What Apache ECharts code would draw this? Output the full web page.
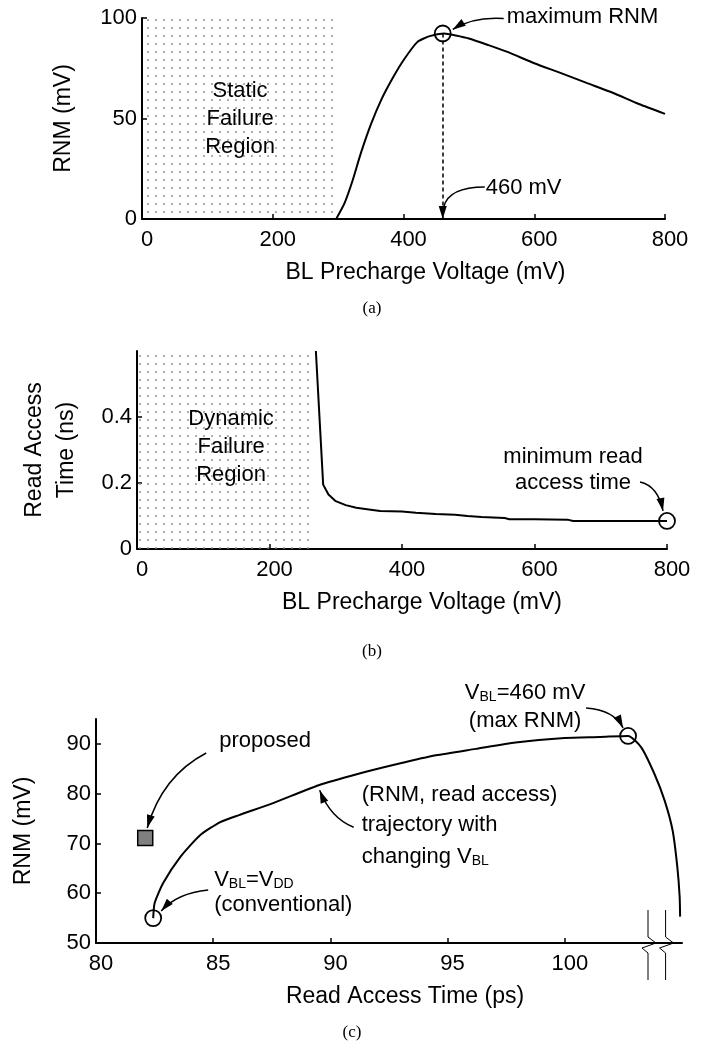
<!DOCTYPE html>
<html>
<head>
<meta charset="utf-8">
<title>RNM / read access vs BL precharge</title>
<script src="https://cdn.jsdelivr.net/npm/echarts@6/dist/echarts.min.js"></script>
<style>
    html, body { margin: 0; padding: 0; background: #fff; }
    #main { width: 704px; height: 1047px; }
</style>
</head>
<body>
<div id="main"></div>
<script>
// (a) RNM vs BL precharge voltage
var aVbl = [297, 310, 322, 335, 350, 367, 385, 400, 421, 440, 462, 480, 500, 530, 560, 600, 640, 680, 720, 760, 800];
var aRnm = [0, 8, 19, 33, 47, 60, 71, 79, 88, 91, 92.3, 91.3, 89.8, 86.5, 83, 77.5, 72.7, 67.7, 62.8, 57.2, 52.3];
var aMax = [460, 92.3];
var aFail = [0, 295];
var aX = [0, 800, 200];
var aY = [0, 100, 50];

// (b) read access time vs BL precharge voltage
var bVbl = [270, 281, 289, 300, 315, 331, 350, 367, 400, 421, 451, 480, 499, 520, 555, 562, 600, 650, 658, 800];
var bTime = [0.6, 0.195, 0.165, 0.145, 0.133, 0.125, 0.12, 0.115, 0.114, 0.11, 0.106, 0.104, 0.1, 0.097, 0.094, 0.09, 0.09, 0.089, 0.085, 0.085];
var bMin = [800, 0.085];
var bFail = [0, 265];
var bX = [0, 800, 200];
var bY = [0, 0.6, 0.2];

// (c) RNM vs read access time, trajectory with changing VBL
var cTime = [82.44, 82.5, 82.86, 83.6, 84.45, 85.3, 86.1, 87.5, 89.5, 91.2, 92.9, 94.5, 96.2, 97.9, 100, 101.5, 102.7, 103.26, 103.83, 104.26, 104.6, 104.8, 104.9, 104.92];
var cRnm = [55, 58, 62, 67.3, 71.7, 74.3, 75.7, 78, 81.7, 84, 86, 87.7, 89, 90.3, 91.2, 91.4, 91.6, 89.3, 83.9, 78.6, 72.6, 65.3, 59.3, 55.3];
var cConv = [82.44, 55];
var cMaxPt = [102.7, 91.6];
var cProposed = [82.1, 71.1];
var cTraj = [89.5, 81.7];
var cBreaks = [103.55, 104.3];
var cX = [80, 105, 5];
var cY = [50, 95, 10];

var FONT = '"Liberation Sans", Arial, Helvetica, sans-serif';
var chart = echarts.init(document.getElementById('main'));

function pairs(xs, ys) {
    return xs.map(function (x, i) { return [x, ys[i]]; });
}

// stipple for the failure regions
var dot = document.createElement('canvas');
dot.width = 8; dot.height = 8;
var dctx = dot.getContext('2d');
dctx.fillStyle = '#8c8c8c';
dctx.beginPath(); dctx.arc(4, 4, 0.95, 0, Math.PI * 2); dctx.fill();
var dots = { image: dot, repeat: 'repeat' };

function xAx(g, r, name, shift, showMax) {
    return {
        gridIndex: g, type: 'value', min: r[0], max: r[1], interval: r[2],
        name: name, nameLocation: 'middle', nameGap: 42,
        nameTextStyle: { color: '#000', fontSize: 23, fontFamily: FONT, padding: [0, 0, 0, shift] },
        axisLine: { onZero: false, lineStyle: { color: '#000', width: 2 } },
        axisTick: { inside: true, length: 5, lineStyle: { color: '#000', width: 1.5 } },
        axisLabel: { color: '#000', fontSize: 22, fontFamily: FONT, margin: 10, showMaxLabel: showMax, padding: [0, 0, 0, 10] },
        splitLine: { show: false }
    };
}
function yAx(g, r, name, gap, showMax) {
    return {
        gridIndex: g, type: 'value', min: r[0], max: r[1], interval: r[2],
        name: name, nameLocation: 'middle', nameGap: gap,
        nameTextStyle: { color: '#000', fontSize: 23, fontFamily: FONT, lineHeight: 32 },
        axisLine: { onZero: false, lineStyle: { color: '#000', width: 2 } },
        axisTick: { inside: true, length: 5, lineStyle: { color: '#000', width: 1.5 } },
        axisLabel: { color: '#000', fontSize: 22, fontFamily: FONT, margin: 5, showMaxLabel: showMax },
        splitLine: { show: false }
    };
}
function ring(g, pt) {
    return {
        type: 'scatter', xAxisIndex: g, yAxisIndex: g, data: [pt], symbol: 'circle', symbolSize: 16, z: 5, silent: true,
        itemStyle: { color: 'rgba(0,0,0,0)', borderColor: '#000', borderWidth: 1.8, opacity: 1 }
    };
}
var lineStyle = { color: '#000', width: 2 };

chart.setOption({
    animation: false,
    backgroundColor: '#fff',
    grid: [
        { left: 142, top: 18, width: 523, height: 201 },
        { left: 137, top: 351, width: 530, height: 198 },
        { left: 94, top: 719, width: 588, height: 224 }
    ],
    xAxis: [
        xAx(0, aX, 'BL Precharge Voltage (mV)', 44, true),
        xAx(1, bX, 'BL Precharge Voltage (mV)', 40, true),
        xAx(2, cX, 'Read Access Time (ps)', 32, false)
    ],
    yAxis: [
        yAx(0, aY, 'RNM (mV)', 62, true),
        yAx(1, bY, 'Read Access\nTime (ns)', 54, false),
        yAx(2, cY, 'RNM (mV)', 56, false)
    ],
    series: [
        {
            type: 'line', xAxisIndex: 0, yAxisIndex: 0, data: pairs(aVbl, aRnm), symbol: 'none', smooth: 0.2,
            lineStyle: lineStyle, z: 3, silent: true,
            markArea: { silent: true, itemStyle: { color: dots }, data: [[{ coord: [aFail[0], aY[0]] }, { coord: [aFail[1], aY[1]] }]] },
            markLine: {
                silent: true, symbol: 'none', label: { show: false },
                lineStyle: { color: '#000', width: 1.5, type: [4, 3] },
                data: [[{ coord: aMax }, { coord: [aMax[0], aY[0]] }]]
            }
        },
        ring(0, aMax),
        {
            type: 'line', xAxisIndex: 1, yAxisIndex: 1, data: pairs(bVbl, bTime), symbol: 'none',
            lineStyle: lineStyle, z: 3, silent: true,
            markArea: { silent: true, itemStyle: { color: dots }, data: [[{ coord: [bFail[0], bY[0]] }, { coord: [bFail[1], bY[1]] }]] }
        },
        ring(1, bMin),
        {
            type: 'line', xAxisIndex: 2, yAxisIndex: 2, data: pairs(cTime, cRnm), symbol: 'none', smooth: 0.2,
            lineStyle: lineStyle, z: 3, silent: true
        },
        ring(2, cConv),
        ring(2, cMaxPt),
        {
            type: 'scatter', xAxisIndex: 2, yAxisIndex: 2, data: [cProposed], symbol: 'rect', symbolSize: 15, z: 5, silent: true,
            itemStyle: { color: '#808080', borderColor: '#000', borderWidth: 1.5, opacity: 1 }
        }
    ]
});

// annotations
function P(g, pt) { return chart.convertToPixel({ gridIndex: g }, pt); }
function add(p, dx, dy) { return [p[0] + dx, p[1] + dy]; }
var gfx = [];
var rich = {
    n: { fontSize: 22, fontFamily: FONT, color: '#000', lineHeight: 26, verticalAlign: 'bottom' },
    s: { fontSize: 14, fontFamily: FONT, color: '#000', lineHeight: 14, verticalAlign: 'bottom' }
};
function text(p, str, align, lh, useRich) {
    var st = { text: str, font: '22px ' + FONT, fill: '#000', align: align, verticalAlign: 'middle', lineHeight: lh || 26 };
    if (useRich) st.rich = rich;
    gfx.push({ type: 'text', x: p[0], y: p[1], style: st, z: 12, silent: true });
}
function head(tip, from) {
    var dx = tip[0] - from[0], dy = tip[1] - from[1], L = Math.sqrt(dx * dx + dy * dy);
    var ux = dx / L, uy = dy / L, len = 13, hw = 4;
    var bx = tip[0] - ux * len, by = tip[1] - uy * len;
    gfx.push({
        type: 'polygon', z: 11, silent: true,
        shape: { points: [tip, [bx - uy * hw, by + ux * hw], [bx + uy * hw, by - ux * hw]] },
        style: { fill: '#000' }
    });
}
function arrow(p0, c, p1, withHead) {
    gfx.push({
        type: 'bezierCurve', z: 10, silent: true,
        shape: { x1: p0[0], y1: p0[1], cpx1: c[0], cpy1: c[1], x2: p1[0], y2: p1[1] },
        style: { stroke: '#000', lineWidth: 1.5, fill: 'none' }
    });
    if (withHead !== false) head(p1, c);
}

// (a)
var C = P(0, aMax);
text(add(C, 64, -17), 'maximum RNM', 'left');
arrow(add(C, 61, -15), add(C, 30, -17), add(C, 10, -4));
var Z = P(0, [aMax[0], aY[0]]);
text(add(Z, 43, -31), '460 mV', 'left');
arrow(add(Z, 42, -32), add(Z, 6, -32), add(Z, 1, -12), false);
head(Z, add(Z, 0, -20));
text(P(0, [150, 50]), 'Static\nFailure\nRegion', 'center', 28);

// (b)
var M = P(1, bMin);
text(add(M, -94, -51), 'minimum read\naccess time', 'center', 26);
arrow(add(M, -27, -39), add(M, -9, -35), add(M, -4, -10));
text(P(1, [142, 0.31]), 'Dynamic\nFailure\nRegion', 'center', 28);

// (c)
var S = P(2, cProposed);
text(add(S, 74, -97), 'proposed', 'left');
arrow(add(S, 61, -85), add(S, 17, -62), add(S, 2, -10));
var T = P(2, cTraj);
text(add(T, 43, 10), '(RNM, read access)', 'left');
text(add(T, 43, 40), 'trajectory with', 'left');
text(add(T, 43, 70), '{n|changing V}{s|BL}', 'left', 26, true);
arrow(add(T, 35, 42), add(T, 12, 33), add(T, 1, 5));
var V = P(2, cConv);
text(add(V, 61, -40), '{n|V}{s|BL}{n|=V}{s|DD}', 'left', 26, true);
text(add(V, 61, -13), '(conventional)', 'left');
arrow(add(V, 55, -28), add(V, 24, -25), add(V, 8, -7));
var Mx = P(2, cMaxPt);
text(add(Mx, -103, -45), '{n|V}{s|BL}{n|=460 mV}', 'center', 26, true);
text(add(Mx, -103, -15), '(max RNM)', 'center');
arrow(add(Mx, -42, -28), add(Mx, -14, -26), add(Mx, -5, -8));

// axis break marks
cBreaks.forEach(function (b) {
    var q = P(2, [b, cY[0]]);
    gfx.push({
        type: 'polyline', z: 9, silent: true,
        shape: { points: [[q[0], q[1] - 33], [q[0], q[1] - 6], [q[0] + 8, q[1]], [q[0] - 6, q[1] + 5], [q[0], q[1] + 10], [q[0], q[1] + 37]] },
        style: { stroke: '#000', lineWidth: 1, fill: 'none' }
    });
});

// captions
[['(a)', 372, 309], ['(b)', 372, 652], ['(c)', 352, 1033]].forEach(function (c) {
    gfx.push({
        type: 'text', x: c[1], y: c[2], silent: true,
        style: { text: c[0], font: '17px "Liberation Serif", "Times New Roman", serif', fill: '#000', align: 'center', verticalAlign: 'middle' }
    });
});

chart.setOption({ graphic: gfx });
</script>
</body>
</html>
